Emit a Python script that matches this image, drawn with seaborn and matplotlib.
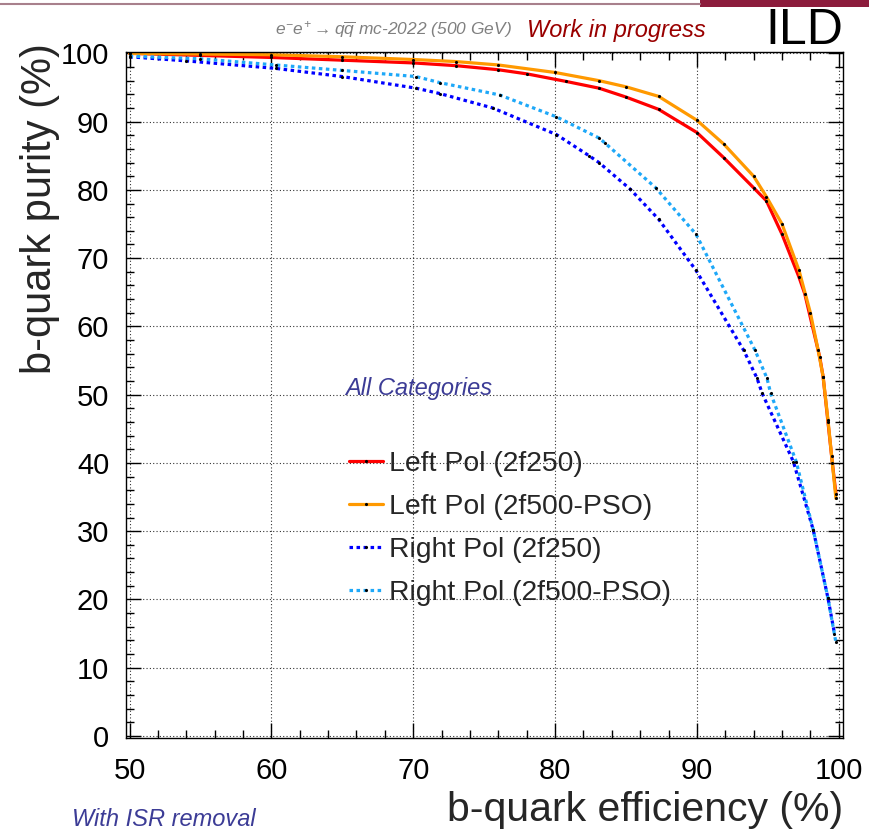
import numpy as np
import pandas as pd
import matplotlib
matplotlib.use("Agg")
import matplotlib.pyplot as plt
import seaborn as sns
from matplotlib.ticker import MultipleLocator
from matplotlib.lines import Line2D
from matplotlib.patches import Rectangle

# ---------------- data ----------------
left250_x = [50, 55, 60, 65, 70, 73, 76, 78, 80.75, 83.1, 85, 87.3, 90, 91.9, 94.0, 94.9, 96.0, 97.2, 97.6, 98.66, 98.9, 99.24, 99.55, 99.8]
left250_y = [100, 99.7, 99.4, 99.0, 98.6, 98.2, 97.6, 97.0, 95.9, 94.9, 93.6, 91.8, 88.4, 84.7, 80.3, 78.4, 73.5, 67.2, 64.8, 55.5, 52.6, 46.0, 40.0, 35.5]

left500_x = [50, 55, 60, 65, 70, 73, 76, 80, 83.1, 85, 87.3, 90, 91.9, 94.0, 94.9, 96.0, 97.2, 98.0, 98.55, 98.9, 99.24, 99.5, 99.8]
left500_y = [100, 99.9, 99.8, 99.5, 99.1, 98.8, 98.3, 97.2, 96.0, 95.1, 93.7, 90.2, 86.7, 82.0, 79.0, 75.0, 68.2, 62.0, 56.5, 52.6, 46.3, 41.0, 34.8]

right250_x = [50, 54, 60.3, 65, 70.2, 71.9, 75.6, 80.1, 82.4, 83.1, 85.3, 87.3, 89.94, 93.3, 94.24, 94.6, 96.8, 98.2, 99.24, 99.7]
right250_y = [99.5, 98.9, 97.8, 96.6, 94.9, 94.1, 92.0, 88.1, 85.0, 84.0, 80.1, 75.7, 68.2, 56.5, 52.4, 50.2, 40.2, 30.2, 20.2, 15.0]

right500_x = [50, 55, 60.3, 65, 70.2, 71.9, 76.1, 80.1, 83.1, 83.5, 87.1, 89.94, 94.1, 94.94, 95.2, 97.0, 98.2, 99.24, 99.8]
right500_y = [99.6, 99.2, 98.3, 97.5, 96.6, 95.7, 93.9, 90.7, 87.6, 86.9, 80.3, 73.5, 56.5, 52.4, 50.2, 40.2, 30.2, 20.2, 13.7]

series_names = ["Left Pol (2f250)", "Left Pol (2f500-PSO)", "Right Pol (2f250)", "Right Pol (2f500-PSO)"]
x_ticks = [50, 60, 70, 80, 90, 100]
y_ticks = [0, 10, 20, 30, 40, 50, 60, 70, 80, 90, 100]

# ---------------- style ----------------
sns.set_theme(style="ticks")
plt.rcParams['font.family'] = ['Liberation Sans', 'DejaVu Sans']
plt.rcParams['mathtext.fontset'] = 'custom'
plt.rcParams['mathtext.rm'] = 'Liberation Sans:italic'
plt.rcParams['mathtext.it'] = 'Liberation Sans:italic'
plt.rcParams['mathtext.sf'] = 'Liberation Sans:italic'

fig = plt.figure(figsize=(8.69, 8.31), dpi=100)
ax = fig.add_axes([126/869, 1-738/831, (843-126)/869, (738-52)/831])

colors = ["#ff0000", "#ff9900", "#0000ff", "#1ea8f8"]
styles = ["-", "-", (0, (1.1, 1.1)), (0, (1.1, 1.1))]
xs = [left250_x, left500_x, right250_x, right500_x]
ys = [left250_y, left500_y, right250_y, right500_y]

frames = []
for n, x, y in zip(series_names, xs, ys):
    frames.append(pd.DataFrame({"eff": x, "pur": y, "series": n}))
df = pd.concat(frames, ignore_index=True)

for n, c, ls in zip(series_names, colors, styles):
    sub = df[df.series == n]
    sns.lineplot(data=sub, x="eff", y="pur", ax=ax, color=c, lw=2.3,
                 estimator=None, sort=False, legend=False)
    ax.lines[-1].set_linestyle(ls)
    ax.plot(sub.eff, sub.pur, ls="none", marker=".", ms=2.5, color="black", zorder=4)

ax.set_xlim(49.75, 100.3)
ax.set_ylim(-0.3, 100.2)
ax.xaxis.set_minor_locator(MultipleLocator(2))
ax.yaxis.set_minor_locator(MultipleLocator(2))
ax.set_xticks(x_ticks)
ax.set_yticks(y_ticks)
ax.tick_params(which="both", direction="in", top=True, right=True, colors="black", width=1.0)
ax.tick_params(which="major", length=11, labelsize=21, pad=14)
ax.tick_params(which="minor", length=6)
ax.tick_params(axis="y", which="major", pad=12)
ax.grid(True, which="major", ls=(0, (1, 2)), color="black", lw=0.8, alpha=0.8)
for s in ax.spines.values():
    s.set_color("black")
    s.set_linewidth(1.0)

ax.set_xlabel("b-quark efficiency (%)", fontsize=29.5, ha="right", x=1.0, labelpad=4)
ax.set_ylabel("b-quark purity (%)", fontsize=30, ha="right")
ax.yaxis.set_label_coords((60-126)/717, (738-43)/686)

# legend
handles = []
for c, ls in zip(colors, styles):
    h = Line2D([0, 0.5, 1], [0, 0, 0], color=c, lw=2.3, ls=ls, marker=".", ms=2.5,
               mfc="black", mec="black", markevery=[1])
    handles.append(h)
leg = ax.legend(handles, series_names, loc="upper left", bbox_to_anchor=(349/869, 1-451/831),
                bbox_transform=fig.transFigure, frameon=False, fontsize=20.4,
                handlelength=1.2, handletextpad=0.2, labelspacing=0.6, borderaxespad=0, borderpad=0)

# annotations
fig.text(275/869, 1-30/831, r"$e^{-}e^{+} \rightarrow q\overline{q}$ mc-2022 (500 GeV)", fontsize=12.5,
         color="#808080", style="italic", va="center", ha="left")
fig.text(527/869, 1-30/831, "Work in progress", fontsize=17, color="#990000", style="italic",
         va="center", ha="left")
fig.text(765/869, 1-31/831, "ILD", fontsize=36, color="black", va="center", ha="left")
fig.text(345/869, 1-388/831, "All Categories", fontsize=17, color="#3c3c96", style="italic",
         va="center", ha="left")
fig.text(72/869, 1-820/831, "With ISR removal", fontsize=17, color="#3c3c96", style="italic",
         va="center", ha="left")

# top banner
fig.add_artist(Line2D([0, 700/869], [1-4/831, 1-4/831], transform=fig.transFigure,
                      color="#a8808c", lw=1.5))
fig.add_artist(Rectangle((700/869, 1-7/831), 169/869, 7/831, transform=fig.transFigure,
                         color="#8c1c3c", lw=0))

fig.savefig("out.png", dpi=100)
